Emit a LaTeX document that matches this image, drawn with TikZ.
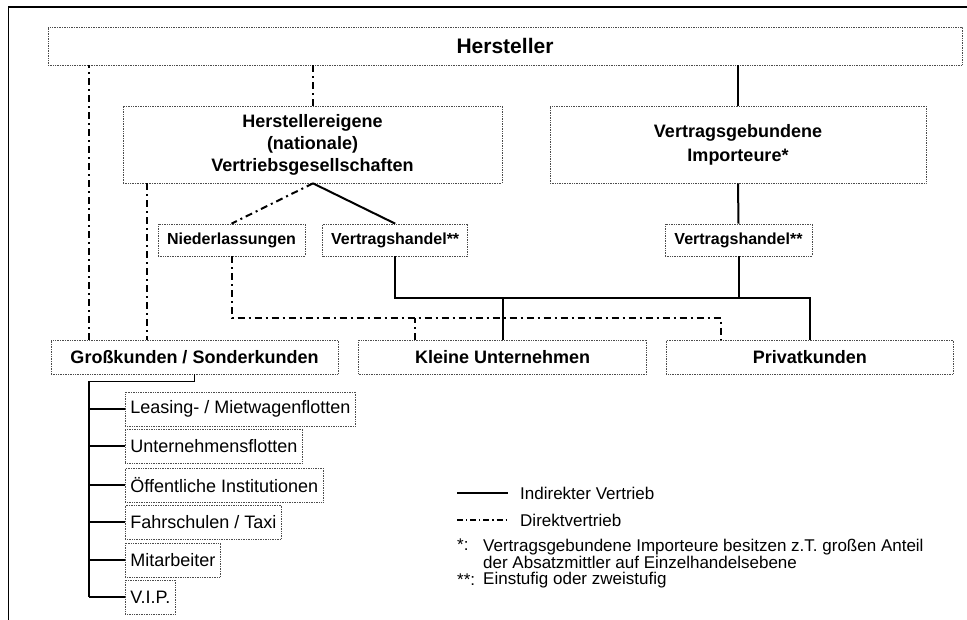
\documentclass[tikz,border=0pt]{standalone}
\usepackage{fontspec}
\setmainfont{Liberation Sans}
\usetikzlibrary{positioning}

\tikzset{
  kasten/.style={draw=black!70, densely dotted, line width=0.7pt, inner sep=0pt, align=center,
    font=\bfseries\fontsize{18}{22}\selectfont},
  kleinkasten/.style={kasten, minimum height=32pt, font=\bfseries\fontsize{16}{19}\selectfont},
  zielkasten/.style={draw=black!70, densely dotted, line width=0.7pt, inner xsep=5pt, inner ysep=0pt,
    minimum height=34pt, anchor=west, font=\fontsize{18}{21}\selectfont},
  indirekt/.style={line width=2pt},
  direkt/.style={line width=2pt, dash pattern=on 7pt off 4pt on 2pt off 4pt},
  legende/.style={anchor=west, inner sep=0pt, align=left, font=\fontsize{17}{17}\selectfont},
}

\begin{document}
\begin{tikzpicture}[x=1pt, y=-1pt]
  \useasboundingbox (0,0) rectangle (967,620);
  % 外框
  \draw[line width=1.8pt] (8,7) -- (967,7);
  \draw[line width=0.9pt] (8,7) -- (8,620);

  % 定义分支长度
  \def\ast{36}

  % 上面三层
  \node[kasten, minimum width=914pt, minimum height=38pt, font=\bfseries\fontsize{21}{25}\selectfont]
    (hersteller) at (505,46) {Hersteller};
  \node[kasten, minimum width=379pt, minimum height=77pt] (eigene) at (312.5,144.5)
    {Herstellereigene\\(nationale)\\Vertriebsgesellschaften};
  \node[kasten, minimum width=376pt, minimum height=77pt, font=\bfseries\fontsize{18}{24}\selectfont]
    (importeure) at (738,144.5) {Vertragsgebundene\\Importeure*};

  \node[kleinkasten, minimum width=147pt] (nieder) at (231.5,240) {Niederlassungen};
  \node[kleinkasten, minimum width=145pt, right=17pt of nieder] (handelA) {Vertragshandel**};
  \node[kleinkasten, minimum width=147pt] (handelB) at (738.5,240) {Vertragshandel**};

  % 客户
  \node[kasten, minimum width=287pt, minimum height=34pt] (gross) at (194.5,357) {Großkunden / Sonderkunden};
  \node[kasten, minimum width=288pt, minimum height=34pt, right=20pt of gross] (klein) {Kleine Unternehmen};
  \node[kasten, minimum width=287pt, minimum height=34pt, right=19pt of klein] (privat) {Privatkunden};

  % 直接销售
  \draw[direkt] ([xshift=38]gross.north west) -- ([xshift=38]gross.north west |- hersteller.south);
  \draw[direkt] (eigene.north) -- (eigene.north |- hersteller.south);
  \draw[direkt] ([xshift=24]eigene.south west) -- ([xshift=24]eigene.south west |- gross.north);
  \draw[direkt] ([xshift=0.5]eigene.south) -- (nieder.north);
  \draw[direkt] (nieder.south) -- ++(0,62) -| ([xshift=55]privat.north west);
  \draw[direkt] ([xshift=57]klein.north west) -- ++(0,-22);

  % 间接销售
  \draw[indirekt] (importeure.north) -- (importeure.north |- hersteller.south);
  \draw[indirekt] (importeure.south) -- (handelB.north);
  \draw[indirekt] ([xshift=0.5]eigene.south) -- (handelA.north);
  \draw[indirekt] (handelA.south) -- ++(0,42) -| (privat.north);
  \draw[indirekt] (handelB.south) -- ++(0,42);
  \draw[indirekt] (klein.north) -- ++(0,-42);

  % 大客户的分类
  \foreach \n/\y/\txt in {leasing/409/{Leasing- / Mietwagenflotten}, flotten/446/Unternehmensflotten,
      oeffentlich/485/Öffentliche Institutionen, fahrschulen/522/{Fahrschulen / Taxi},
      mitarbeiter/560/Mitarbeiter, vip/597/V.I.P.}
  {
    \node[zielkasten] (\n) at (125,\y) {\txt};
    \draw[line width=1.4pt] (\n.west) -- ++(-\ast,0);
  }
  \draw[line width=1.4pt] (gross.south) -- ++(0,7) -| ([xshift=-\ast]vip.west);

  % 图例
  \coordinate (la) at (457,493);
  \coordinate (lb) at (508,493);
  \coordinate (lc) at (457,520);
  \coordinate (ld) at (508,520);
  \draw[line width=1.2pt] (la) -- (lb);
  \draw[line width=1.2pt, dash pattern=on 6pt off 3pt on 1.2pt off 3pt] (lc) -- (ld);
  \node[legende] (indirekt) at (520,493) {Indirekter Vertrieb};
  \node[legende] (direkt) at (520,520) {Direktvertrieb};
  \node[legende] (stern) at (457,545) {*:};
  \node[legende] (anm1) at (483,553.5)
    {Vertragsgebundene Importeure besitzen z.T. großen Anteil\\der Absatzmittler auf Einzelhandelsebene};
  \node[legende] (sterne) at (457,580) {**:};
  \node[legende] (anm2) at (483,580) {Einstufig oder zweistufig};
\end{tikzpicture}
\end{document}
